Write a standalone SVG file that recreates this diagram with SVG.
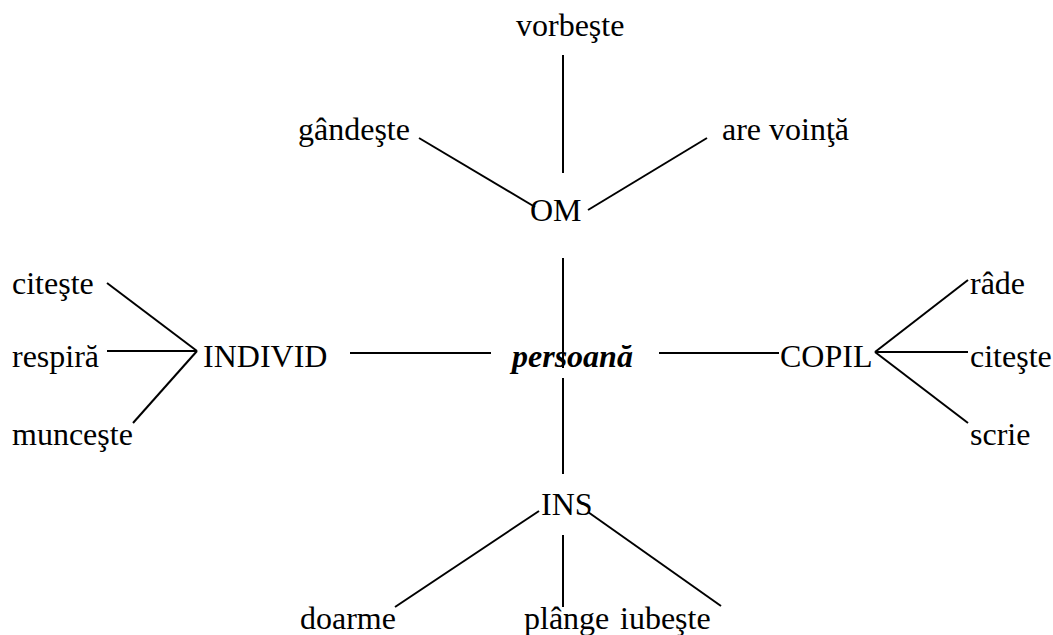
<svg xmlns="http://www.w3.org/2000/svg" width="1053" height="635" viewBox="0 0 1053 635">
<style>
svg text{font-family:"Liberation Serif","Times New Roman",serif !important;font-size:32px}
.c{font-weight:bold;font-style:italic}
line{stroke:#000;stroke-width:2}
</style>
<rect width="1053" height="635" fill="#fff"/>
<g id="connectors">
<line x1="563" y1="55" x2="563" y2="173"/>
<line x1="419" y1="138" x2="535" y2="207"/>
<line x1="707" y1="138" x2="588" y2="210"/>
<line x1="563" y1="258" x2="563" y2="368"/>
<line x1="563" y1="378" x2="563" y2="474"/>
<line x1="350" y1="353" x2="491" y2="353"/>
<line x1="659" y1="353" x2="779" y2="353"/>
<line x1="107" y1="283" x2="197" y2="351"/>
<line x1="107" y1="351" x2="197" y2="351"/>
<line x1="133" y1="423" x2="197" y2="351"/>
<line x1="875" y1="352" x2="968" y2="280"/>
<line x1="875" y1="352" x2="968" y2="352"/>
<line x1="875" y1="352" x2="968" y2="423"/>
<line x1="539" y1="511" x2="395" y2="607"/>
<line x1="563" y1="535" x2="563" y2="607"/>
<line x1="588" y1="512" x2="721" y2="606"/>
</g>
<g id="persoana"><text class="c" x="512" y="367" style="font-family:'Liberation Serif',serif">persoană</text></g>
<g id="om"><text x="530" y="221" style="font-family:'Liberation Serif',serif">OM</text></g>
<g id="vorbeste"><text x="516" y="36" style="font-family:'Liberation Serif',serif">vorbeşte</text></g>
<g id="gandeste"><text x="298" y="140" style="font-family:'Liberation Serif',serif">gândeşte</text></g>
<g id="are-vointa"><text x="722" y="140" style="font-family:'Liberation Serif',serif">are voinţă</text></g>
<g id="individ"><text x="203" y="367" style="font-family:'Liberation Serif',serif">INDIVID</text></g>
<g id="citeste-l"><text x="12" y="294" style="font-family:'Liberation Serif',serif">citeşte</text></g>
<g id="respira"><text x="12" y="367" style="font-family:'Liberation Serif',serif">respiră</text></g>
<g id="munceste"><text x="12" y="445" style="font-family:'Liberation Serif',serif">munceşte</text></g>
<g id="copil"><text x="780" y="367" style="font-family:'Liberation Serif',serif">COPIL</text></g>
<g id="rade"><text x="970" y="294" style="font-family:'Liberation Serif',serif">râde</text></g>
<g id="citeste-r"><text x="970" y="367" style="font-family:'Liberation Serif',serif">citeşte</text></g>
<g id="scrie"><text x="970" y="445" style="font-family:'Liberation Serif',serif">scrie</text></g>
<g id="ins"><text x="541" y="515" style="font-family:'Liberation Serif',serif">INS</text></g>
<g id="doarme"><text x="300" y="629" style="font-family:'Liberation Serif',serif">doarme</text></g>
<g id="plange"><text x="524" y="629" style="font-family:'Liberation Serif',serif">plânge</text></g>
<g id="iubeste"><text x="620" y="629" style="font-family:'Liberation Serif',serif">iubeşte</text></g>
</svg>
